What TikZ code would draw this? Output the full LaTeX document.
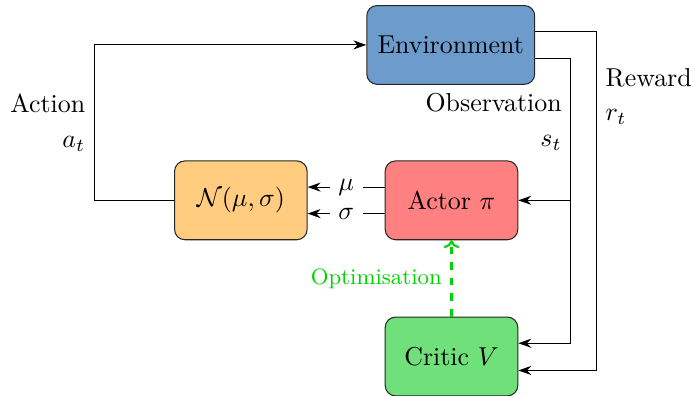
\documentclass[tikz,border=0pt]{standalone}
\usepackage{amsmath,amssymb}
\usepackage{tikz}
\usetikzlibrary{calc,arrows.meta}
\definecolor{envblue}{RGB}{108,155,204}
\definecolor{actred}{RGB}{255,128,128}
\definecolor{distorange}{RGB}{255,204,128}
\definecolor{critgreen}{RGB}{112,224,122}
\definecolor{optgreen}{RGB}{0,210,0}

\begin{document}
\begin{tikzpicture}[>={Stealth[length=5pt,width=3.5pt]},
	box/.style={draw=black!85,rounded corners=4pt,minimum width=1.8cm,minimum height=1.07cm}]
	\useasboundingbox (0,0) rectangle (9.45,5.37);

	\node[box,fill=envblue,minimum width=2.28cm] (env) at (6.12,4.76){Environment};
	\node[box,fill=actred] (actor) at (6.13,2.65){Actor $\pi$};
	\node[box,fill=distorange] (dist) at (3.27,2.65){$\mathcal{N}(\mu,\sigma)$};
	\node[box,fill=critgreen] (critic) at (6.13,0.53){Critic $V$};
	\coordinate (obs) at (7.75,0.71);
	\coordinate (rew) at (8.10,0.34);
	\begin{scope}[every node/.style={align=right}]
	%action loop
	\draw[->] (dist.west) -- (1.28,2.65) |- node[pos=0.25,left]{Action\\[1.5pt]$a_t$} (env.west);
	%observation and reward
	\draw ([yshift=-1.8mm]env.east) -| (obs);
	\draw[->] (obs |- actor.east) -- (actor.east);
	\draw[->] (obs) -- (critic.east |- obs);
	\draw[->] ([yshift=1.8mm]env.east) -| (rew) -- (critic.east |- rew);
	\node[left] (obslbl) at (7.75,3.72){Observation\\[1.5pt]$s_t$};
	\node[right,align=left] (rewlbl) at (8.10,4.06){Reward\\[1.5pt]$r_t$};
	%policy outputs
	\draw[<-] ([yshift=1.8mm]dist.east) -- node[fill=white]{$\mu$} ([yshift=1.8mm]actor.west);
	\draw[<-] ([yshift=-1.8mm]dist.east) -- node[fill=white]{$\sigma$} ([yshift=-1.8mm]actor.west);
	%critic update
	\draw[-{To[length=3pt,width=6pt]},dashed,thick,optgreen] (critic) -- node[left,text=optgreen]{\fontsize{8.6}{10}\selectfont Optimisation} (actor);
	\end{scope}
\end{tikzpicture}
\end{document}
